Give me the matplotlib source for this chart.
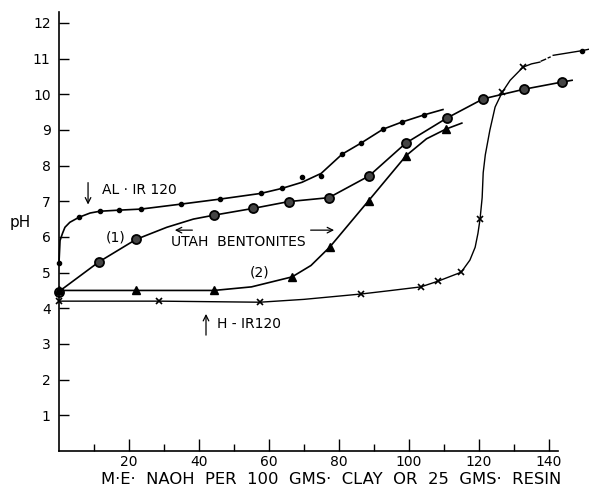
import matplotlib
matplotlib.use('Agg')
import matplotlib.pyplot as plt

# ----- data --------------------------

# AL-IR120 (small dots)
al_x = [0, 5.7, 11.7, 17.1, 23.4, 34.9, 46, 57.7, 63.7, 69.4, 74.9, 80.9, 86.3, 92.6, 98, 104.3]
al_y = [5.27, 6.55, 6.72, 6.75, 6.78, 6.92, 7.06, 7.22, 7.36, 7.68, 7.71, 8.32, 8.63, 9.02, 9.22, 9.42]
al_line_x = [0, 0.3, 1.0, 1.7, 3.1, 5.7, 8.9, 11.7, 17.1, 23.4, 34.9, 46, 57.7, 63.7, 69.4, 74.9,
             80.9, 86.3, 92.6, 98, 104.3, 109.7]
al_line_y = [5.27, 5.9, 6.1, 6.27, 6.41, 6.55, 6.67, 6.72, 6.75, 6.78, 6.92, 7.06, 7.22, 7.36, 7.53,
             7.78, 8.32, 8.63, 9.02, 9.22, 9.42, 9.57]

# Utah bentonite (1) (circles)
b1_x = [0, 11.4, 22, 44.3, 55.5, 65.6, 77.1, 88.6, 99.1, 110.8, 121.2, 132.9, 143.7]
b1_y = [4.47, 5.3, 5.93, 6.61, 6.8, 6.99, 7.1, 7.71, 8.63, 9.33, 9.87, 10.14, 10.34]
b1_line_x = [0, 11.4, 22, 30.8, 38.4, 44.3, 55.5, 65.6, 77.1, 88.6, 99.1, 110.8, 121.2, 132.9,
             143.7, 146.6]
b1_line_y = [4.47, 5.3, 5.93, 6.27, 6.5, 6.61, 6.8, 6.99, 7.1, 7.71, 8.63, 9.33, 9.87, 10.14,
             10.34, 10.39]

# Utah bentonite (2) (triangles)
b2_x = [0, 22, 44.3, 66.6, 77.4, 88.5, 99.2, 110.5]
b2_y = [4.5, 4.5, 4.5, 4.88, 5.72, 7.02, 8.28, 9.02]
b2_line_x = [0, 22, 44.3, 55, 66.6, 72, 77.4, 88.5, 99.2, 105, 110.5, 115.1]
b2_line_y = [4.5, 4.5, 4.5, 4.6, 4.88, 5.2, 5.72, 7.02, 8.28, 8.75, 9.02, 9.19]

# H-IR120 (crosses)
h_x = [0, 28.6, 57.4, 86.3, 103.4, 108.3, 114.9, 120.3, 126.6, 132.6]
h_y = [4.2, 4.2, 4.17, 4.4, 4.6, 4.76, 5.01, 6.5, 10.05, 10.77]
h_line_x = [0, 28.6, 57.4, 70, 86.3, 95, 103.4, 108.3, 114.9, 117.4, 118.9, 119.7, 120.3, 120.9,
            121.2, 121.8, 123.1, 124.6, 126.6, 128.9, 132.6, 135, 137.4]
h_line_y = [4.2, 4.2, 4.17, 4.25, 4.4, 4.5, 4.6, 4.76, 5.01, 5.35, 5.71, 6.1, 6.5, 7.1,
            7.8, 8.3, 8.99, 9.64, 10.05, 10.39, 10.76, 10.85, 10.9]
h_tail_x = [141.2, 145, 149.4, 151.4]
h_tail_y = [11.09, 11.15, 11.22, 11.26]

x_ticks = [20, 40, 60, 80, 100, 120, 140]
y_ticks = [1, 2, 3, 4, 5, 6, 7, 8, 9, 10, 11, 12]

# ----- chart -------

fig = plt.figure(figsize=(5.89, 4.88), dpi=100)
ax = fig.add_axes([59 / 589, 37 / 488, 530.25 / 589, 446 / 488])
ax.set_xlim(0, 151.5)
ax.set_ylim(0, 12.5)

lw = 1.2
ax.plot(al_line_x, al_line_y, color='black', lw=lw, clip_on=False)
ax.plot(al_x, al_y, 'o', color='black', ms=3, clip_on=False)

ax.plot(b1_line_x, b1_line_y, color='black', lw=lw, clip_on=False)
ax.plot(b1_x, b1_y, 'o', color='black', ms=6.5, mfc='#444444', mec='black', mew=1.3, clip_on=False)

ax.plot(b2_line_x, b2_line_y, color='black', lw=lw, clip_on=False)
ax.plot(b2_x, b2_y, '^', color='black', ms=6, clip_on=False)

ax.plot(h_line_x, h_line_y, color='black', lw=1.0, clip_on=False)
ax.plot([137.8, 139.0], [10.93, 10.98], color='black', lw=1.0)
ax.plot([139.8, 140.3], [11.02, 11.04], color='black', lw=1.0)
ax.plot(h_tail_x, h_tail_y, color='black', lw=1.0, clip_on=False)
ax.plot(h_x, h_y, 'x', color='black', ms=5, mew=1.2, clip_on=False)
ax.plot([149.4], [11.22], 'o', color='black', ms=3, clip_on=False)

# annotations
txt = dict(fontsize=10, color='black')
ax.annotate('', xy=(8.3, 6.83), xytext=(8.3, 7.6),
            arrowprops=dict(arrowstyle='->', color='black', lw=0.9))
ax.text(12.3, 7.31, 'AL · IR 120', ha='left', va='center', **txt)
ax.text(16.3, 5.97, '(1)', ha='center', va='center', **txt)
ax.text(57.4, 5.01, '(2)', ha='center', va='center', **txt)
ax.text(51.2, 5.85, 'UTAH  BENTONITES', ha='center', va='center', **txt)
ax.annotate('', xy=(32.3, 6.19), xytext=(38.9, 6.19),
            arrowprops=dict(arrowstyle='->', color='black', lw=0.9))
ax.annotate('', xy=(79.4, 6.19), xytext=(71.1, 6.19),
            arrowprops=dict(arrowstyle='->', color='black', lw=0.9))
ax.annotate('', xy=(42, 3.92), xytext=(42, 3.17),
            arrowprops=dict(arrowstyle='->', color='black', lw=0.9))
ax.text(45.1, 3.56, 'H - IR120', ha='left', va='center', **txt)

# axes styling
for side in ['top', 'right']:
    ax.spines[side].set_visible(False)
ax.spines['left'].set_bounds(0, 12.3)
ax.spines['bottom'].set_bounds(0, 142.6)
ax.spines['left'].set_linewidth(1.2)
ax.spines['bottom'].set_linewidth(1.2)

ax.set_xticks(x_ticks)
ax.set_xticklabels([str(v) for v in x_ticks])
ax.set_xticks([10, 30, 50, 70, 90, 110, 130], minor=True)
ax.set_yticks(y_ticks)
ax.set_yticklabels([str(v) for v in y_ticks])
ax.tick_params(axis='x', which='major', direction='in', length=9, width=1, labelsize=10, pad=3)
ax.tick_params(axis='x', which='minor', direction='in', length=5, width=1)
ax.tick_params(axis='y', which='major', direction='in', length=7, width=1, labelsize=10, pad=6)

ax.text(-8, 6.4, 'pH', ha='right', va='center', fontsize=11)
fig.text(331 / 589, 1 - 479 / 488, 'M·E·  NAOH  PER  100  GMS·  CLAY  OR  25  GMS·  RESIN',
         ha='center', va='center', fontsize=11.8)

plt.savefig('out.png', dpi=100)
plt.close()
